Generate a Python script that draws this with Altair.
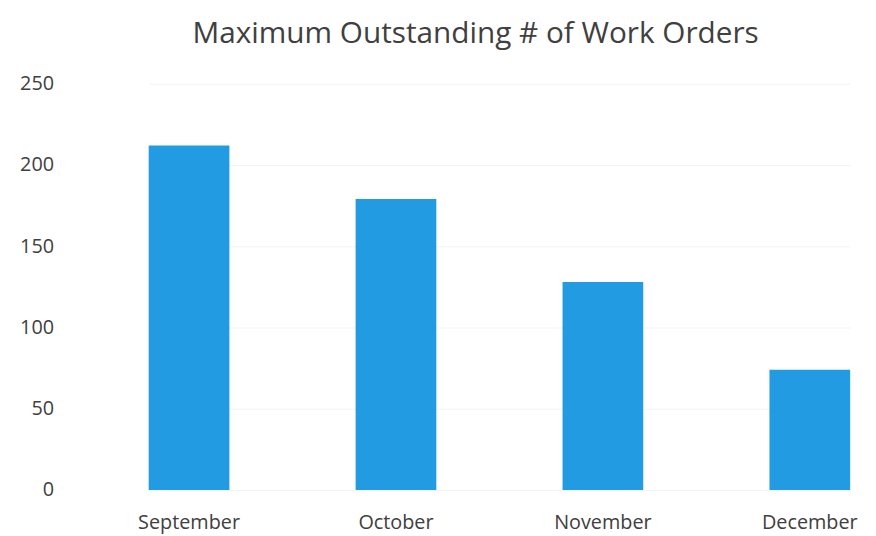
import altair as alt
import pandas as pd

months = ["September", "October", "November", "December"]
values = [212, 179, 128, 74]

df = pd.DataFrame({"month": months, "value": values})

chart = alt.Chart(df).mark_bar(color="#229be2").encode(
    x=alt.X("month:N", sort=months, title=None,
            scale=alt.Scale(range=[58, 766], paddingInner=0.61, paddingOuter=0),
            axis=alt.Axis(labelAngle=0, labelFont="Open Sans", labelFontSize=20,
                          labelColor="#404040", domain=False, ticks=False,
                          labelPadding=23, grid=False)),
    y=alt.Y("value:Q", title=None,
            scale=alt.Scale(domain=[0, 250], nice=False),
            axis=alt.Axis(values=[0, 50, 100, 150, 200, 250], labelFont="Open Sans",
                          labelFontSize=20, labelColor="#404040", domain=False,
                          ticks=False, labelPadding=38, gridColor="#f3f3f3",
                          gridWidth=1)),
).properties(
    width=776,
    height=410,
    title=alt.TitleParams("Maximum Outstanding # of Work Orders", font="Open Sans",
                          fontSize=30, fontWeight="normal", color="#404040",
                          anchor="middle", frame="group", baseline="alphabetic",
                          offset=1),
    autosize=alt.AutoSizeParams(type="none"),
    padding={"left": 84, "top": 74, "right": 8, "bottom": 44},
).configure_view(stroke=None)

chart.save("out.html", embed_options={"renderer": "svg", "actions": False})
